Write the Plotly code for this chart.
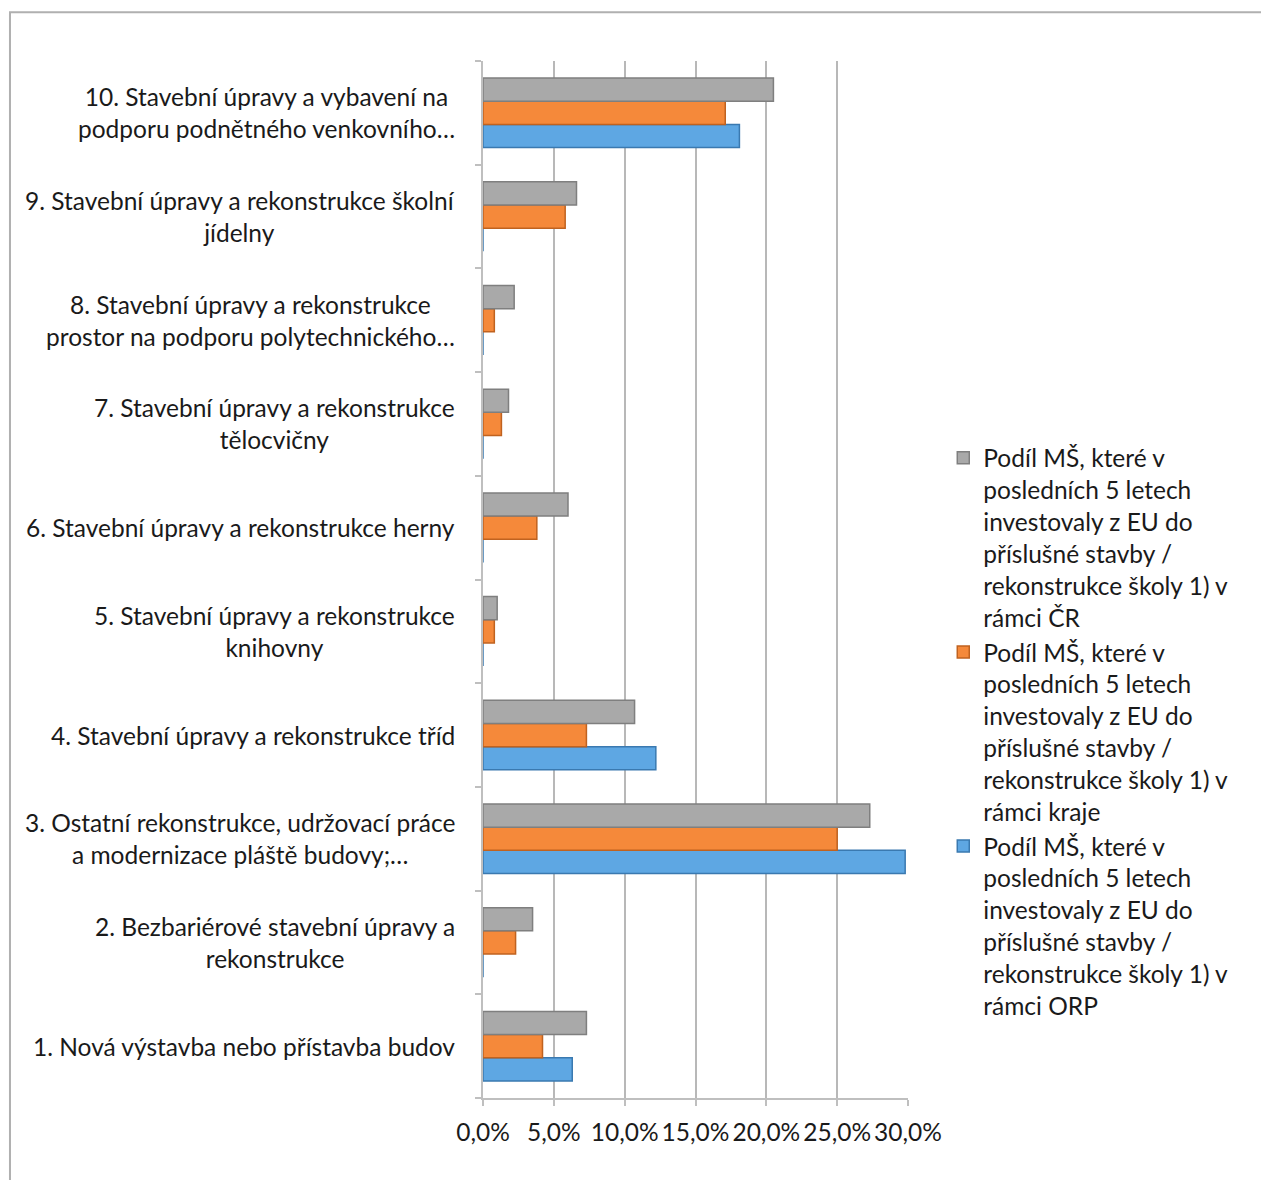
import plotly.graph_objects as go

categories = [
    "1. Nová výstavba nebo přístavba budov",
    "2. Bezbariérové stavební úpravy a<br>rekonstrukce",
    "3. Ostatní rekonstrukce, udržovací práce<br>a modernizace pláště budovy;…",
    "4. Stavební úpravy a rekonstrukce tříd",
    "5. Stavební úpravy a rekonstrukce<br>knihovny",
    "6. Stavební úpravy a rekonstrukce herny",
    "7. Stavební úpravy a rekonstrukce<br>tělocvičny",
    "8. Stavební úpravy a rekonstrukce<br>prostor na podporu polytechnického…",
    "9. Stavební úpravy a rekonstrukce školní<br>jídelny",
    "10. Stavební úpravy a vybavení na<br>podporu podnětného venkovního…",
]

cr_values = [0.073, 0.035, 0.273, 0.107, 0.010, 0.060, 0.018, 0.022, 0.066, 0.205]
kraj_values = [0.042, 0.023, 0.250, 0.073, 0.008, 0.038, 0.013, 0.008, 0.058, 0.171]
orp_values = [0.063, 0.0, 0.298, 0.122, 0.0, 0.0, 0.0, 0.0, 0.0, 0.181]

name_cr = "Podíl MŠ, které v<br>posledních 5 letech<br>investovaly z EU do<br>příslušné stavby /<br>rekonstrukce školy 1) v<br>rámci ČR"
name_kraj = "Podíl MŠ, které v<br>posledních 5 letech<br>investovaly z EU do<br>příslušné stavby /<br>rekonstrukce školy 1) v<br>rámci kraje"
name_orp = "Podíl MŠ, které v<br>posledních 5 letech<br>investovaly z EU do<br>příslušné stavby /<br>rekonstrukce školy 1) v<br>rámci ORP"

x_ticks = [0, 0.05, 0.10, 0.15, 0.20, 0.25, 0.30]

FONT = "Lato, Open Sans, sans-serif"
FS = 24.5
TXT = "#1a1a1a"

fig = go.Figure()
fig.add_trace(go.Bar(y=categories, x=orp_values, orientation="h", name=name_orp,
                     marker=dict(color="#5ea7e3", line=dict(color="#3a79b0", width=1.5))))
fig.add_trace(go.Bar(y=categories, x=kraj_values, orientation="h", name=name_kraj,
                     marker=dict(color="#f5893a", line=dict(color="#c0621f", width=1.5))))
fig.add_trace(go.Bar(y=categories, x=cr_values, orientation="h", name=name_cr,
                     marker=dict(color="#a9a9a9", line=dict(color="#7f7f7f", width=1.5))))

for c in categories:
    fig.add_annotation(x=0, y=c, xref="x", yref="y", text=c, showarrow=False,
                       xanchor="right", yanchor="middle", align="center", xshift=-26,
                       font=dict(family=FONT, size=FS, color=TXT))

fig.update_layout(
    width=1269, height=1180,
    margin=dict(l=475, r=369, t=53, b=90),
    paper_bgcolor="white", plot_bgcolor="white",
    barmode="group", bargap=0.33, bargroupgap=0,
    separators=", ",
    font=dict(family=FONT, size=FS, color=TXT),
    showlegend=True,
    legend=dict(traceorder="reversed", x=1.083, xanchor="left", y=0.353, yanchor="middle",
                valign="top",
                font=dict(family=FONT, size=FS, color=TXT), tracegroupgap=0,
                itemwidth=30, bgcolor="rgba(0,0,0,0)"),
    xaxis=dict(range=[0, 0.30], tickvals=x_ticks, tickformat=".1%",
               showgrid=True, gridcolor="#b8b8b8", gridwidth=2,
               showline=True, linecolor="#bfbfbf", linewidth=2,
               ticks="outside", tickcolor="#bfbfbf", ticklen=6, tickwidth=2,
               ticklabelstandoff=6,
               zeroline=False, tickfont=dict(family=FONT, size=FS, color=TXT)),
    yaxis=dict(showticklabels=False, showline=True, linecolor="#bfbfbf", linewidth=2,
               ticks="outside", tickson="boundaries", ticklen=6, tickcolor="#bfbfbf", tickwidth=2,
               showgrid=False, categoryorder="array", categoryarray=categories),
    shapes=[dict(type="rect", xref="paper", yref="paper", x0=-1.113, x1=2.0, y0=-0.2, y1=1.047,
                 line=dict(color="#b0b0b0", width=2), fillcolor="rgba(0,0,0,0)", layer="below")],
)

fig.write_html("out.html")
